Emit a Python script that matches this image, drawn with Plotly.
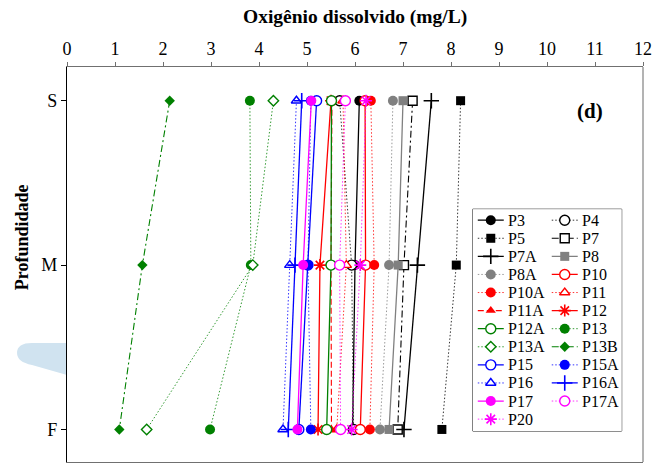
import plotly.graph_objects as go

# Depth levels (surface, middle, bottom) and their vertical positions
depth_labels = ["S", "M", "F"]
depth_pos = [2, 1, 0]

# Dissolved oxygen (mg/L) per station, ordered S, M, F
od_P3 = [6.09, 6.00, 5.95]
od_P4 = [5.68, 5.93, 5.97]
od_P5 = [8.20, 8.11, 7.81]
od_P7 = [7.20, 7.02, 6.89]
od_P7A = [7.59, 7.30, 7.02]
od_P8 = [7.00, 6.90, 6.71]
od_P8A = [6.79, 6.71, 6.52]
od_P10 = [6.21, 6.22, 6.11]
od_P10A = [6.33, 6.40, 6.31]
od_P11 = [5.75, 5.82, 5.62]
od_P11A = [5.52, 5.50, 5.51]
od_P12 = [5.50, 5.27, 5.23]
od_P12A = [5.51, 5.50, 5.41]
od_P13 = [3.81, 3.83, 2.98]
od_P13A = [4.30, 3.87, 1.66]
od_P13B = [2.14, 1.57, 1.09]
od_P15 = [5.20, 5.02, 4.83]
od_P15A = [5.08, 5.02, 5.08]
od_P16 = [4.78, 4.64, 4.50]
od_P16A = [4.89, 4.75, 4.61]
od_P17 = [5.09, 4.92, 4.80]
od_P17A = [5.80, 5.68, 5.70]
od_P20 = [6.23, 6.11, 5.93]

x_ticks = list(range(0, 13))

BLACK, GRAY, RED = "#000000", "#808080", "#ff0000"
GREEN, BLUE, MAGENTA = "#008000", "#0000ff", "#ff00ff"

# name, values, colour, line style, marker kind
series = [
    ("P3", od_P3, BLACK, "solid", "circle"),
    ("P4", od_P4, BLACK, "dot", "circle-o"),
    ("P5", od_P5, BLACK, "dot", "square"),
    ("P7", od_P7, BLACK, "dashdot", "square-o"),
    ("P7A", od_P7A, BLACK, "solid", "plus"),
    ("P8", od_P8, GRAY, "solid", "square"),
    ("P8A", od_P8A, GRAY, "dot", "circle"),
    ("P10", od_P10, RED, "solid", "circle-o"),
    ("P10A", od_P10A, RED, "dot", "circle"),
    ("P11", od_P11, RED, "dot", "triangle-o"),
    ("P11A", od_P11A, RED, "dash", "triangle"),
    ("P12", od_P12, RED, "solid", "asterisk"),
    ("P12A", od_P12A, GREEN, "solid", "circle-o"),
    ("P13", od_P13, GREEN, "dot", "circle"),
    ("P13A", od_P13A, GREEN, "dot", "diamond-o"),
    ("P13B", od_P13B, GREEN, "dashdot", "diamond"),
    ("P15", od_P15, BLUE, "solid", "circle-o"),
    ("P15A", od_P15A, BLUE, "dot", "circle"),
    ("P16", od_P16, BLUE, "dot", "triangle-o"),
    ("P16A", od_P16A, BLUE, "solid", "plus"),
    ("P17", od_P17, MAGENTA, "solid", "circle"),
    ("P17A", od_P17A, MAGENTA, "dot", "circle-o"),
    ("P20", od_P20, MAGENTA, "dot", "asterisk"),
]

DASHES = {
    "solid": "solid",
    "dot": "1.5px,2px",
    "dash": "6px,3px",
    "dashdot": "7px,3px,2px,3px",
}


def marker_style(kind, color):
    base = kind.replace("-o", "")
    is_open = kind.endswith("-o")
    sizes = {"circle": 10, "square": 9, "triangle": 9, "diamond": 8,
             "plus": 11, "asterisk": 10}
    symbols = {"circle": "circle", "square": "square", "triangle": "triangle-up",
               "diamond": "diamond", "plus": "cross-thin-open",
               "asterisk": "asterisk-open"}
    m = dict(symbol=symbols[base], size=sizes[base])
    if base in ("plus", "asterisk"):
        m.update(color=color, line=dict(color=color, width=1.6))
    elif is_open:
        m.update(color="white", line=dict(color=color, width=1.4))
    else:
        m.update(color=color, line=dict(width=0))
    return m


def line_style(style, color):
    width = {"solid": 1.3, "dot": 0.8}.get(style, 1.1)
    return dict(color=color, width=width, dash=DASHES[style])


fig = go.Figure()

for name, vals, color, style, kind in series:
    fig.add_trace(go.Scatter(
        x=vals, y=depth_pos, name=name, mode="lines+markers",
        line=line_style(style, color), marker=marker_style(kind, color),
        cliponaxis=False, showlegend=False,
    ))

# Plot area geometry in page pixels
W, H = 670, 463
L, R, T, B = 67, 643.3, 66.7, 462.0


def px_x(x):
    return (x - L) / (R - L)


def px_y(y):
    return (B - y) / (B - T)


# Two-column key drawn on its own small axis pair
LEG_X0, LEG_X1, LEG_Y0, LEG_Y1 = 473, 622, 209, 431
leg_w, leg_h = LEG_X1 - LEG_X0, LEG_Y1 - LEG_Y0
row_h, row0 = 18.1, 11.0
col_sample = [5, 79]
col_text = [33, 107]
sample_len = 26

SERIF = "Liberation Serif"

annotations = []
for i, (name, vals, color, style, kind) in enumerate(series):
    row, col = divmod(i, 2)
    yy = row0 + row * row_h
    x0 = col_sample[col]
    fig.add_trace(go.Scatter(
        x=[x0, x0 + sample_len], y=[yy, yy], mode="lines",
        line=line_style(style, color), xaxis="x2", yaxis="y2",
        showlegend=False, hoverinfo="skip", cliponaxis=False,
    ))
    fig.add_trace(go.Scatter(
        x=[x0 + sample_len / 2], y=[yy], mode="markers",
        marker=marker_style(kind, color), xaxis="x2", yaxis="y2",
        showlegend=False, hoverinfo="skip", cliponaxis=False,
    ))
    annotations.append(dict(
        x=col_text[col], y=yy, xref="x2", yref="y2", text=name,
        showarrow=False, xanchor="left", yanchor="middle",
        font=dict(size=16, color="black", family=SERIF),
    ))

annotations += [
    dict(x=0.5, y=px_y(17), xref="paper", yref="paper",
         text="<b>Oxigênio dissolvido (mg/L)</b>", showarrow=False,
         xanchor="center", yanchor="middle",
         font=dict(size=19.5, color="black", family=SERIF)),
    dict(x=px_x(22), y=px_y(237), xref="paper", yref="paper",
         text="<b>Profundidade</b>", showarrow=False, textangle=-90,
         xanchor="center", yanchor="middle",
         font=dict(size=18, color="black", family=SERIF)),
    dict(x=px_x(590), y=px_y(111), xref="paper", yref="paper",
         text="<b>(d)</b>", showarrow=False,
         xanchor="center", yanchor="middle",
         font=dict(size=21, color="black", family=SERIF)),
]

# Pale blue smear at the left edge of the page
smear = [(67, 343), (32, 343), (17, 343), (17, 353), (17, 362), (32, 365), (67, 375)]
p = [(px_x(a), px_y(b)) for a, b in smear]
smear_path = (f"M {p[0][0]},{p[0][1]} L {p[1][0]},{p[1][1]} "
              f"Q {p[2][0]},{p[2][1]} {p[3][0]},{p[3][1]} "
              f"Q {p[4][0]},{p[4][1]} {p[5][0]},{p[5][1]} "
              f"L {p[6][0]},{p[6][1]} Z")

shapes = [
    dict(type="path", path=smear_path, xref="paper", yref="paper",
         fillcolor="rgb(208,227,240)", line=dict(width=0), layer="below"),
    dict(type="rect", xref="paper", yref="paper",
         x0=px_x(LEG_X0), x1=px_x(LEG_X1), y0=px_y(LEG_Y1), y1=px_y(LEG_Y0),
         fillcolor="white", line=dict(color="#222222", width=1), layer="below"),
    dict(type="line", xref="paper", yref="paper", x0=1, x1=1, y0=0, y1=1,
         line=dict(color="#808080", width=1.2)),
]

fig.update_layout(
    width=W, height=H,
    margin=dict(l=L, r=W - R, t=T, b=H - B, pad=0),
    paper_bgcolor="white", plot_bgcolor="white",
    font=dict(family=SERIF, size=16, color="black"),
    showlegend=False,
    annotations=annotations,
    shapes=shapes,
    xaxis=dict(
        side="top", range=[0, 12], tickvals=x_ticks, ticktext=[str(t) for t in x_ticks],
        showgrid=False, zeroline=False, showline=True, linecolor="#707070",
        linewidth=1.2, mirror=True, ticks="outside", ticklen=4, tickcolor="#707070",
        tickfont=dict(size=18, family=SERIF, color="black"),
    ),
    yaxis=dict(
        range=[-0.198, 2.205], tickvals=depth_pos, ticktext=depth_labels,
        showgrid=False, zeroline=False, showline=True, linecolor="black",
        linewidth=1.2, ticks="outside", ticklen=5, tickcolor="black",
        tickfont=dict(size=18, family=SERIF, color="black"),
    ),
    xaxis2=dict(
        domain=[px_x(LEG_X0), px_x(LEG_X1)], range=[0, leg_w], anchor="y2",
        visible=False, fixedrange=True,
    ),
    yaxis2=dict(
        domain=[px_y(LEG_Y1), px_y(LEG_Y0)], range=[leg_h, 0], anchor="x2",
        visible=False, fixedrange=True,
    ),
)

fig.write_html("out.html")
